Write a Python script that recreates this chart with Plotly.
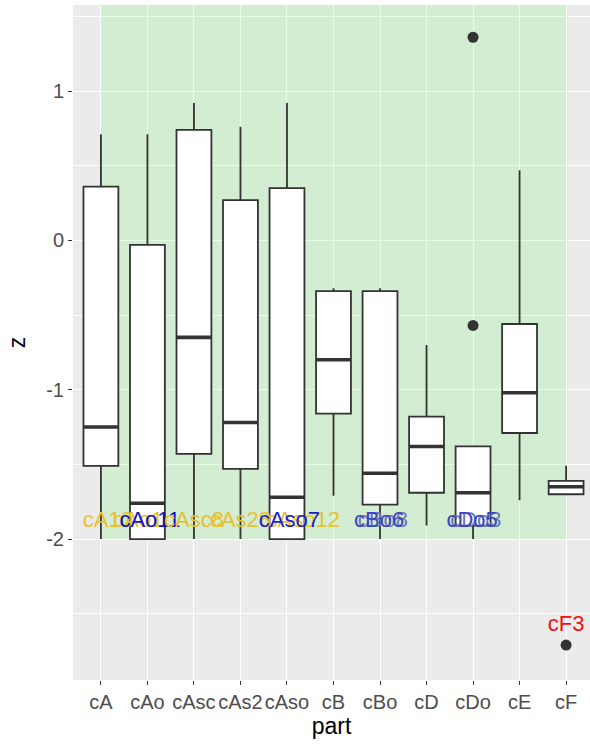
import plotly.graph_objects as go

categories = ["cA", "cAo", "cAsc", "cAs2", "cAso", "cB", "cBo", "cD", "cDo", "cE", "cF"]
upper_whisker = [0.71, 0.71, 0.92, 0.76, 0.92, -0.32, -0.32, -0.70, -1.38, 0.47, -1.51]
q3 = [0.36, -0.03, 0.74, 0.27, 0.35, -0.34, -0.34, -1.18, -1.38, -0.56, -1.61]
median = [-1.25, -1.76, -0.65, -1.22, -1.72, -0.80, -1.56, -1.38, -1.69, -1.02, -1.65]
q1 = [-1.51, -2.00, -1.43, -1.53, -2.00, -1.16, -1.77, -1.69, -1.91, -1.29, -1.70]
lower_whisker = [-2.00, -2.00, -2.00, -2.00, -2.00, -1.71, -2.00, -1.91, -2.00, -1.74, -1.70]

outlier_part = ["cDo", "cDo", "cF"]
outlier_z = [1.36, -0.57, -2.71]

label_text = ["cA10", "cAo1", "cAo11", "cAsc8", "cAs28", "cAso12", "cAso7", "cBo8", "cBo6", "cDo3", "cDo5", "cF3"]
label_x = [1.15, 1.8, 2.05, 3.0, 4.0, 5.35, 5.05, 7.06, 6.98, 9.06, 8.98, 11.0]
label_z = [-1.88, -1.88, -1.88, -1.88, -1.88, -1.88, -1.88, -1.88, -1.88, -1.88, -1.88, -2.58]
label_color = ["#E8C12E", "#E8C12E", "#1010C8", "#E8C12E", "#E8C12E", "#E8C12E", "#2020C8",
               "#7078B8", "#3A46C0", "#7078B8", "#3A46C0", "#EE1111"]

highlight_x = [1, 11]
highlight_z = [-2, 3]

pos = {c: i + 1 for i, c in enumerate(categories)}
xs = [pos[c] for c in categories]
bw = 0.75

fig = go.Figure()

fig.add_shape(type="rect", x0=highlight_x[0], x1=highlight_x[1], y0=highlight_z[0], y1=highlight_z[1],
              xref="x", yref="y", fillcolor="rgba(0,255,0,0.1)", line_width=0, layer="between")

fig.add_trace(go.Box(
    x=xs, q1=q1, median=median, q3=q3, lowerfence=lower_whisker, upperfence=upper_whisker,
    width=bw, whiskerwidth=0, fillcolor="white",
    line=dict(color="#333333", width=1.8), boxpoints=False, hoverinfo="skip", showlegend=False))

mx, my = [], []
for x, m in zip(xs, median):
    mx += [x - bw / 2, x + bw / 2, None]
    my += [m, m, None]
fig.add_trace(go.Scatter(x=mx, y=my, mode="lines", line=dict(color="#333333", width=3.6),
                         showlegend=False, hoverinfo="skip"))

fig.add_trace(go.Scatter(x=[pos[c] for c in outlier_part], y=outlier_z, mode="markers",
                         marker=dict(color="#333333", size=11), showlegend=False))

fig.add_trace(go.Scatter(x=label_x, y=label_z, mode="text", text=label_text,
                         textposition="middle center",
                         textfont=dict(color=label_color, size=22, family="Liberation Sans, Arial"),
                         showlegend=False))

fig.update_layout(
    width=590, height=745,
    margin=dict(l=73, r=0, t=5, b=65),
    paper_bgcolor="white", plot_bgcolor="#EBEBEB",
    font=dict(family="Liberation Sans, Arial", color="#4D4D4D"),
    xaxis=dict(range=[0.4, 11.514], tickmode="array", tickvals=xs, ticktext=categories,
               automargin=False,
               showgrid=True, gridcolor="white", gridwidth=1.2, zeroline=False,
               ticks="outside", ticklen=4, tickwidth=1.2, tickcolor="#333333",
               tickfont=dict(size=20, color="#4D4D4D"),
               title=dict(text="part", font=dict(size=23, color="black"), standoff=0)),
    yaxis=dict(range=[-2.944, 1.576], tickmode="array", tickvals=[-2, -1, 0, 1],
               ticktext=["-2", "-1", "0", "1"], automargin=False,
               showgrid=True, gridcolor="white", gridwidth=1.2, zeroline=False,
               minor=dict(tickmode="array", tickvals=[-2.5, -1.5, -0.5, 0.5, 1.5],
                          showgrid=True, gridcolor="white", gridwidth=0.6, ticks=""),
               ticks="outside", ticklen=4, tickwidth=1.2, tickcolor="#333333",
               tickfont=dict(size=20, color="#4D4D4D"),
               title=dict(text="z", font=dict(size=23, color="black"), standoff=14)),
)

fig.write_html("out.html", config={"displayModeBar": False},
               post_script="document.body.style.margin='0';")
